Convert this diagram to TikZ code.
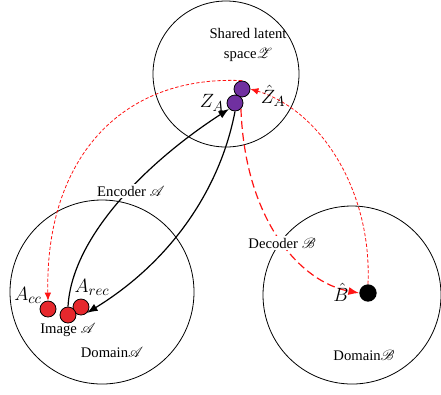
\documentclass[tikz,border=0pt]{standalone}
\usepackage{fontspec}
\setmainfont{Liberation Serif}
\usepackage{mathrsfs}
\usetikzlibrary{arrows.meta}

\definecolor{dotred}{RGB}{230,40,45}
\definecolor{dotpurple}{RGB}{112,48,160}
\definecolor{cyclered}{RGB}{255,20,20}

\tikzset{
  domcirc/.style={draw,circle,line width=0.6pt,inner sep=0pt},
  code/.style={draw,circle,line width=0.6pt,inner sep=0pt,minimum size=12pt},
  lbl/.style={inner sep=1pt,font=\fontsize{11}{15}\selectfont},
  mlbl/.style={inner sep=0pt,font=\fontsize{15}{17}\selectfont},
  net/.style={line width=0.9pt,-{Latex[length=8pt,width=6pt]}},
  cyc/.style={cyclered,line width=0.6pt,dash pattern=on 2.5pt off 1.5pt,-{Latex[length=6pt,width=5pt]}},
  dec/.style={cyclered,line width=0.9pt,dash pattern=on 6pt off 3pt,-{Latex[length=8pt,width=6pt]}}
}

\begin{document}
\begin{tikzpicture}[x=0.75pt,y=-0.75pt]
    \useasboundingbox (0,0) rectangle (441,394);
    \coordinate (C0) at (226,74);
    \coordinate (C1) at (102,292);
    \coordinate (C2) at (352,295);
      \node [domcirc,minimum size=109.5pt] (latent) at (C0) {};
      \node [domcirc,minimum size=138pt] (domA) at (C1) {};
      \node [domcirc,minimum size=133.5pt] (domB) at (C2) {};
      \node [code,fill=dotpurple] (zhat) at (242,89) {};
      \node [code,fill=dotpurple] (za) at (235,103) {};
      \node [code,fill=dotred] (acc) at (48,309) {};
      \node [code,fill=dotred] (arec) at (81,307) {};
      \node [code,fill=dotred] (aimg) at (68,315) {};
      \node [circle,fill=black,inner sep=0pt,minimum size=13pt] (bhat) at (368,293) {};
      \draw [net] (aimg.north)
        .. controls (72,235) and (150,160) .. (za.south west);
      \draw [net] (za.south)
        .. controls (220,190) and (170,262) .. (arec.south east);
      \draw [cyc] (zhat.north)
        .. controls (120,75) and (45,160) .. (acc.north);
      \draw [dec] (za.south east)
        .. controls (245,220) and (300,282) .. (bhat.west);
      \draw [cyc] (bhat.north)
        .. controls (372,190) and (320,110) .. (zhat.east);
      \node [lbl,align=center] (tlatent) at (248,45) {Shared latent\\ space$\mathscr{Z}$};
      \node [mlbl] (tza) at (212,103) {$Z_A$};
      \node [mlbl] (tzhat) at (273,96) {$\hat{Z}_A$};
      \node [mlbl] (tacc) at (28,295) {$A_{cc}$};
      \node [mlbl] (tarec) at (92,287) {$A_{rec}$};
      \node [lbl] (timg) at (68,330) {Image $\mathscr{A}$};
      \node [lbl] (tdomA) at (112,352) {Domain$\mathscr{A}$};
      \node [lbl,fill=white] (tenc) at (131,191) {Encoder $\mathscr{A}$};
      \node [lbl,fill=white] (tdec) at (282,243) {Decoder $\mathscr{B}$};
      \node [mlbl] (tbhat) at (341,292) {$\hat{B}$};
      \node [lbl] (tdomB) at (364,355) {Domain$\mathscr{B}$};
  \end{tikzpicture}
\end{document}
